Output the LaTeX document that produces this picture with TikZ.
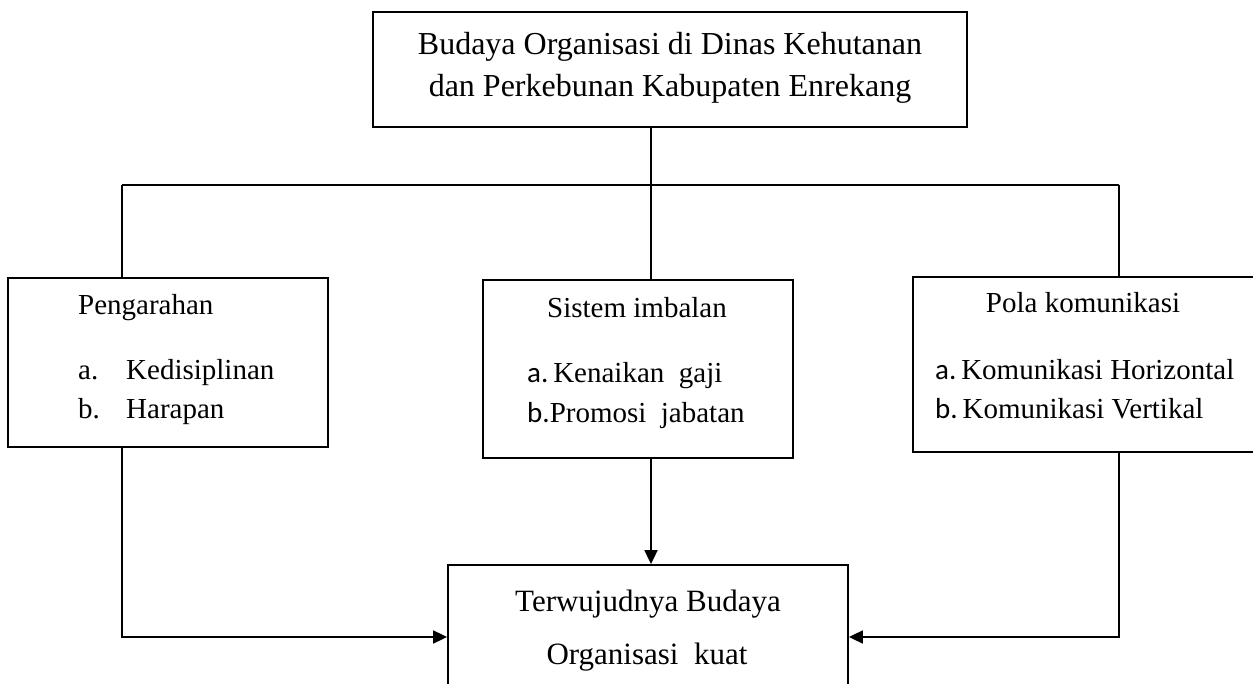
\documentclass[tikz,border=0pt]{standalone}
\usepackage{fontspec}
\setmainfont{Liberation Serif}
\newfontfamily\calib{Carlito}
\usetikzlibrary{arrows.meta}
\begin{document}
\begin{tikzpicture}[x=1pt,y=-1pt,
  box/.style={draw,line width=1.8pt,inner sep=0pt,rectangle},
  txt/.style={inner sep=0pt,font=\fontsize{29}{35}\selectfont},
  ttl/.style={inner sep=0pt,font=\fontsize{32}{38}\selectfont},
  btm/.style={inner sep=0pt,font=\fontsize{31}{37}\selectfont},
  conn/.style={line width=1.8pt},
  arr/.style={line width=1.8pt,-{Triangle[length=14pt,width=13pt]}}]
\useasboundingbox (0,0) rectangle (1253,684);
% boxes
\node[box,minimum width=594pt,minimum height=115pt] (top) at (670,69.5) {};
\node[box,minimum width=320pt,minimum height=169pt] (left) at (168,362.5) {};
\node[box,minimum width=310pt,minimum height=178pt] (mid) at (638,369) {};
\node[box,minimum width=357pt,minimum height=175pt] (right) at (1091.5,364.5) {};
\node[box,minimum width=400pt,minimum height=144pt] (bot) at (648,637) {};
% texts
\node[ttl,anchor=base] (t1) at (670,55) {Budaya Organisasi di Dinas Kehutanan};
\node[ttl,anchor=base] (t2) at (670,97) {dan Perkebunan Kabupaten Enrekang};
\node[txt,anchor=base west] (l1) at (78,315) {Pengarahan};
\node[txt,anchor=base west] (l2a) at (78,380) {a.};
\node[txt,anchor=base west] (l2) at (126,380) {Kedisiplinan};
\node[txt,anchor=base west] (l3a) at (78,418) {b.};
\node[txt,anchor=base west] (l3) at (126,418) {Harapan};
\node[txt,anchor=base] (m1) at (637,318) {Sistem imbalan};
\node[txt,anchor=base west] (m2) at (527,383) {{\calib a.}\,Kenaikan\ \ gaji};
\node[txt,anchor=base west] (m3) at (527,423) {{\calib b.}Promosi\ \ jabatan};
\node[txt,anchor=base] (r1) at (1083,313) {Pola komunikasi};
\node[txt,anchor=base west] (r2) at (935,380) {{\calib a.}\,Komunikasi Horizontal};
\node[txt,anchor=base west] (r3) at (935,418) {{\calib b.}\,Komunikasi Vertikal};
\node[btm,anchor=base] (b1) at (648,611) {Terwujudnya Budaya};
\node[btm,anchor=base] (b2) at (647,664) {Organisasi\ \ kuat};
% connectors
\coordinate (trunk) at (651,185);
\coordinate (hl) at (122,185);
\coordinate (hr) at (1119,185);
\draw[conn] (hl) -- (hr);
\draw[conn] (top.south -| trunk) -- (mid.north -| trunk);
\draw[conn] (hl) -- (left.north -| hl);
\draw[conn] (hr) -- (right.north -| hr);
\draw[arr] (mid.south -| trunk) -- (bot.north -| trunk);
\draw[arr] (left.south -| hl) |- (bot.west);
\draw[arr] (right.south -| hr) |- (bot.east);
\end{tikzpicture}
\end{document}
